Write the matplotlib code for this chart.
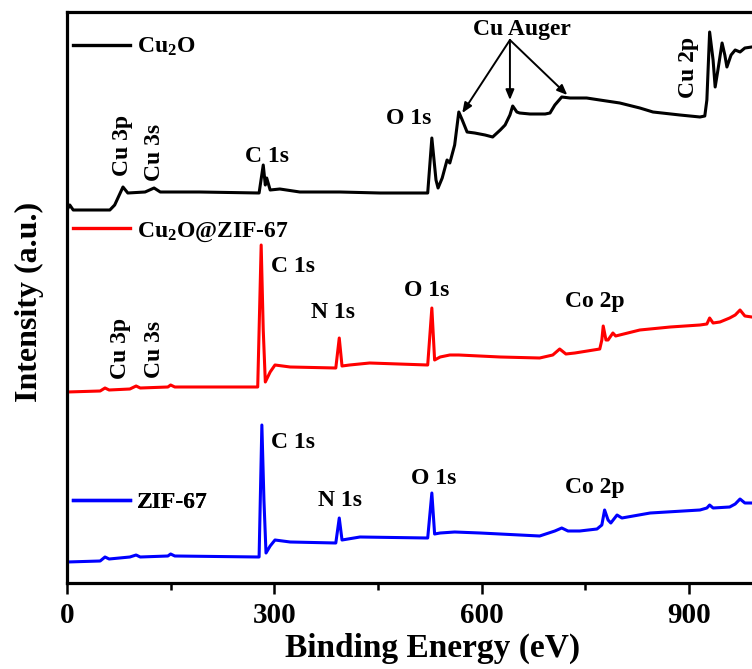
import matplotlib
matplotlib.use("Agg")
import matplotlib.pyplot as plt
from matplotlib.lines import Line2D

plt.rcParams['font.family'] = ['Liberation Serif', 'DejaVu Serif']
plt.rcParams['font.weight'] = 'bold'
plt.rcParams['mathtext.fontset'] = 'custom'
plt.rcParams['mathtext.rm'] = 'Liberation Serif:bold'
plt.rcParams['mathtext.bf'] = 'Liberation Serif:bold'
plt.rcParams['mathtext.it'] = 'Liberation Serif:bold:italic'
plt.rcParams['mathtext.default'] = 'rm'

# ---- data (binding energy in eV, intensity in arbitrary units, offsets included) ----
cu2o_be = [0, 4, 9, 62, 69, 81, 88, 113, 126, 135, 192, 278, 284, 287, 289, 294, 308, 337,
           395, 453, 522, 528, 534, 537, 543, 550, 554, 561, 567, 572, 579, 590, 605, 616,
           627, 634, 641, 645, 651, 655, 670, 692, 699, 706, 716, 728, 752, 771, 800, 829,
           848, 887, 916, 923, 926, 930, 935, 938, 942, 948, 952, 955, 961, 967, 974, 981, 991]
cu2o_int = [373, 378, 373, 373, 378, 396, 390, 391, 395, 391, 391, 390, 418, 398, 405, 393, 394, 391,
            391, 390, 390, 445, 403, 395, 405, 423, 420, 438, 471, 463, 451, 450, 448, 446,
            453, 458, 468, 477, 471, 470, 469, 469, 470, 478, 486, 485, 485, 483, 480, 475,
            471, 468, 466, 467, 483, 551, 523, 496, 513, 540, 528, 516, 528, 533, 531, 535, 536]

zif_cu_be = [0, 48, 55, 61, 91, 100, 106, 146, 150, 156, 276, 281, 284, 287, 294, 301, 323,
             389, 394, 398, 409, 438, 522, 528, 532, 540, 554, 567, 627, 684, 703, 713, 722,
             735, 771, 774, 776, 780, 783, 790, 794, 829, 873, 916, 926, 930, 935, 945, 959,
             967, 974, 981, 991]
zif_cu_int = [191, 192, 195, 193, 194, 197, 195, 196, 198, 196, 196, 338, 253, 201, 211, 218, 216,
              215, 245, 217, 218, 220, 218, 275, 223, 226, 228, 228, 226, 225, 228, 234, 229,
              230, 234, 243, 257, 243, 243, 250, 247, 253, 256, 258, 259, 265, 260, 261, 265,
              268, 273, 267, 266]

zif_be = [0, 48, 55, 61, 91, 100, 106, 146, 150, 156, 278, 282, 285, 288, 294, 301, 323,
          389, 394, 398, 424, 522, 528, 532, 540, 561, 598, 684, 706, 716, 725, 742, 767,
          774, 778, 783, 787, 796, 803, 844, 916, 926, 930, 935, 959, 967, 974, 981, 991]
zif_int = [21, 22, 26, 24, 26, 28, 26, 27, 29, 27, 26, 158, 83, 30, 37, 43, 41,
           40, 65, 43, 46, 45, 90, 49, 50, 51, 50, 47, 52, 55, 52, 52, 54,
           58, 73, 63, 60, 68, 65, 70, 73, 75, 78, 75, 76, 79, 84, 80, 80]

series_names = ['Cu$_2$O', 'Cu$_2$O@ZIF-67', 'ZIF-67']
series_colors = ['black', '#ff0000', '#0000ff']

# peak labels: (text, energy, intensity, rotation)
labels_cu2o = [('Cu 3p', 80, 438, 90), ('Cu 3s', 127, 431, 90), ('C 1s', 289, 427, 0),
               ('O 1s', 495, 465, 0), ('Cu 2p', 899, 516, 90)]
labels_zif_cu = [('Cu 3p', 77, 235, 90), ('Cu 3s', 127, 234, 90), ('C 1s', 327, 316, 0),
                 ('N 1s', 385, 270, 0), ('O 1s', 521, 293, 0), ('Co 2p', 764, 281, 0)]
labels_zif = [('C 1s', 327, 141, 0), ('N 1s', 395, 83, 0), ('O 1s', 531, 105, 0),
              ('Co 2p', 764, 95, 0)]
auger_text = ('Cu Auger', 658, 553)
auger_origin = (641, 543)
auger_targets = [(572, 470), (641, 483), (724, 488)]
legend_anchor_be = 9
legend_anchor_int = [536, 351, 81]

# ---- figure ----
W, H = 752, 669
fig = plt.figure(figsize=(W / 100, H / 100), dpi=100)
xmax = 1100
px_per_ev = 0.691
ax_px = xmax * px_per_ev
ax = fig.add_axes([67 / W, (H - 583) / H, ax_px / W, (583 - 12) / H])

lw = 2.2
ax.plot(cu2o_be, cu2o_int, color=series_colors[0], lw=lw)
ax.plot(zif_cu_be, zif_cu_int, color=series_colors[1], lw=lw)
ax.plot(zif_be, zif_int, color=series_colors[2], lw=lw)

ax.set_xlim(0, xmax)
ax.set_ylim(0, 571)
ax.set_xticks([0, 300, 600, 900])
ax.set_xticks([150, 450, 750, 1050], minor=True)
ax.set_yticks([])
ax.tick_params(axis='x', which='major', direction='out', length=8, width=1.8,
               labelsize=21, pad=6)
ax.tick_params(axis='x', which='minor', direction='out', length=5, width=1.8)
for lab in ax.get_xticklabels():
    lab.set_fontweight('bold')
for s in ax.spines.values():
    s.set_linewidth(2.3)

ax.set_xlabel('Binding Energy (eV)', fontsize=24, fontweight='bold')
ax.xaxis.set_label_coords((433 - 67) / ax_px, -0.088)
ax.set_ylabel('Intensity (a.u.)', fontsize=23, fontweight='bold')
ax.yaxis.set_label_coords(-(67 - 44) / ax_px, (583 - 302) / 571)

fs = 17
for group in (labels_cu2o, labels_zif_cu, labels_zif):
    for txt, e, i, rot in group:
        ax.text(e, i, txt, fontsize=fs, fontweight='bold', rotation=rot,
                ha='center', va='center')

ax.text(auger_text[1], auger_text[2], auger_text[0], fontsize=fs, fontweight='bold',
        ha='center', va='center')
for tx, ty in auger_targets:
    ax.annotate('', xy=(tx, ty), xytext=auger_origin,
                arrowprops=dict(arrowstyle='-|>,head_length=0.6,head_width=0.25',
                                color='black', lw=1.4, shrinkA=0, shrinkB=0))

for name, col, yi in zip(series_names, series_colors, legend_anchor_int):
    h = Line2D([], [], color=col, lw=2.4)
    leg = ax.legend([h], [name], loc='center left', bbox_to_anchor=(legend_anchor_be, yi),
                    bbox_transform=ax.transData, frameon=False,
                    handlelength=2.4, handletextpad=0.3, borderpad=0, borderaxespad=0,
                    prop={'weight': 'bold', 'size': fs})
    ax.add_artist(leg)

fig.savefig('out.png', dpi=100)
